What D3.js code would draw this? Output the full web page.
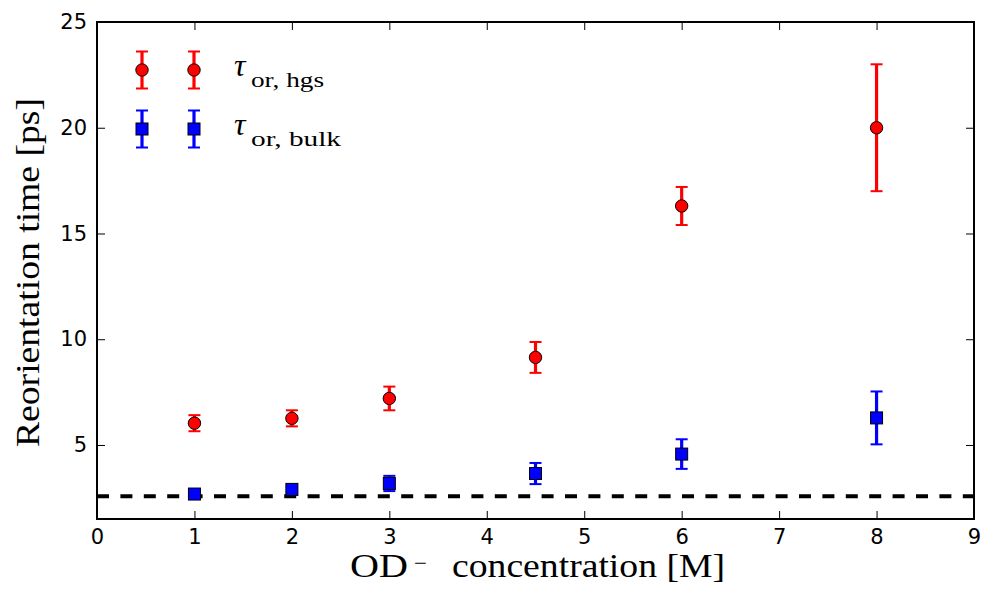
<!DOCTYPE html>
<html lang="en">
<head>
    <meta charset="UTF-8">
    <title>Reorientation time vs OD- concentration</title>
    <script src="https://d3js.org/d3.v7.min.js"></script>
    <style>
        body {
            margin: 0;
            background: #fff;
        }
        .tick text {
            font-family: "DejaVu Sans", sans-serif;
            font-size: 21px;
            fill: #000;
        }
        .tick line {
            stroke: #000;
            stroke-width: 1px;
        }
        .axis-label, .legend-label {
            font-family: "Liberation Serif", "DejaVu Serif", serif;
            fill: #000;
        }
    </style>
</head>
<body>
    <svg id="chart"></svg>

    <script>
        // concentrations (M)
        const conc = [1, 2, 3, 4.5, 6, 8];

        // tau_or,hgs (ps) and errors
        const hgs = [6.03, 6.26, 7.2, 9.14, 16.3, 20.0];
        const hgsErr = [0.38, 0.38, 0.56, 0.73, 0.9, 3.0];

        // tau_or,bulk (ps) and errors
        const bulk = [2.68, 2.9, 3.18, 3.65, 4.57, 6.28];
        const bulkErr = [0.12, 0.12, 0.36, 0.5, 0.7, 1.25];

        // reference level (dashed line)
        const bulkWater = 2.57;

        const xTicks = [0, 1, 2, 3, 4, 5, 6, 7, 8, 9];
        const yTicks = [5, 10, 15, 20, 25];

        const width = 982;
        const height = 596;
        const margin = {top: 22, right: 8, bottom: 77, left: 97};

        const svg = d3.select("#chart")
            .attr("width", width)
            .attr("height", height);

        const x = d3.scaleLinear()
            .domain([0, 9])
            .range([margin.left, width - margin.right]);

        const y = d3.scaleLinear()
            .domain([1.5, 25])
            .range([height - margin.bottom, margin.top]);

        const plotW = x(9) - x(0);
        const plotH = y(1.5) - y(25);

        // axes, ticks pointing inward
        svg.append("g")
            .attr("transform", `translate(0,${y(1.5)})`)
            .call(d3.axisBottom(x).tickValues(xTicks).tickSize(-8).tickPadding(10).tickFormat(d3.format("d")))
            .call(g => g.select(".domain").remove());

        svg.append("g")
            .attr("transform", `translate(0,${y(25)})`)
            .call(d3.axisTop(x).tickValues(xTicks).tickSize(-8).tickFormat(""))
            .call(g => g.select(".domain").remove());

        svg.append("g")
            .attr("transform", `translate(${x(0)},0)`)
            .call(d3.axisLeft(y).tickValues(yTicks).tickSize(-8).tickPadding(10).tickFormat(d3.format("d")))
            .call(g => g.select(".domain").remove());

        svg.append("g")
            .attr("transform", `translate(${x(9)},0)`)
            .call(d3.axisRight(y).tickValues(yTicks).tickSize(-8).tickFormat(""))
            .call(g => g.select(".domain").remove());

        // dashed reference line
        svg.append("line")
            .attr("x1", x(0))
            .attr("x2", x(9))
            .attr("y1", y(bulkWater))
            .attr("y2", y(bulkWater))
            .attr("stroke", "#000")
            .attr("stroke-width", 4)
            .attr("stroke-dasharray", "12,11.4");

        // error bars + markers
        function drawErrBars(g, xs, ys, errs, color) {
            const data = xs.map((d, i) => ({x: d, y: ys[i], e: errs[i]}));
            g.selectAll(".bar").data(data).enter().append("line")
                .attr("x1", d => x(d.x)).attr("x2", d => x(d.x))
                .attr("y1", d => y(d.y - d.e)).attr("y2", d => y(d.y + d.e))
                .attr("stroke", color).attr("stroke-width", 3.2);
            [-1, 1].forEach(s => {
                g.selectAll(".cap" + s).data(data).enter().append("line")
                    .attr("x1", d => x(d.x) - 6).attr("x2", d => x(d.x) + 6)
                    .attr("y1", d => y(d.y + s * d.e)).attr("y2", d => y(d.y + s * d.e))
                    .attr("stroke", color).attr("stroke-width", 2);
            });
            return data;
        }

        const gRed = svg.append("g");
        const redData = drawErrBars(gRed, conc, hgs, hgsErr, "#ff0000");
        const gBlue = svg.append("g");
        const blueData = drawErrBars(gBlue, conc, bulk, bulkErr, "#0000ff");

        gRed.selectAll("circle").data(redData).enter().append("circle")
            .attr("cx", d => x(d.x)).attr("cy", d => y(d.y)).attr("r", 6.2)
            .attr("fill", "#ff0000").attr("stroke", "#000").attr("stroke-width", 1);

        gBlue.selectAll("rect").data(blueData).enter().append("rect")
            .attr("x", d => x(d.x) - 6).attr("y", d => y(d.y) - 6)
            .attr("width", 12).attr("height", 12)
            .attr("fill", "#0000ff").attr("stroke", "#000").attr("stroke-width", 1);

        // frame
        svg.append("rect")
            .attr("x", x(0)).attr("y", y(25))
            .attr("width", plotW).attr("height", plotH)
            .attr("fill", "none").attr("stroke", "#000").attr("stroke-width", 2);

        // legend
        const legend = svg.append("g");
        const legItems = [
            {color: "#ff0000", shape: "circle", cy: 70, sub: "or, hgs", subW: 73},
            {color: "#0000ff", shape: "square", cy: 129, sub: "or, bulk", subW: 90}
        ];
        legItems.forEach(it => {
            [142, 194].forEach(cx => {
                legend.append("line")
                    .attr("x1", cx).attr("x2", cx).attr("y1", it.cy - 18.5).attr("y2", it.cy + 18.5)
                    .attr("stroke", it.color).attr("stroke-width", 3.2);
                [-18.5, 18.5].forEach(o => legend.append("line")
                    .attr("x1", cx - 6).attr("x2", cx + 6).attr("y1", it.cy + o).attr("y2", it.cy + o)
                    .attr("stroke", it.color).attr("stroke-width", 2));
                if (it.shape === "circle") {
                    legend.append("circle").attr("cx", cx).attr("cy", it.cy).attr("r", 6.2)
                        .attr("fill", it.color).attr("stroke", "#000");
                } else {
                    legend.append("rect").attr("x", cx - 6).attr("y", it.cy - 6)
                        .attr("width", 12).attr("height", 12)
                        .attr("fill", it.color).attr("stroke", "#000");
                }
            });
            legend.append("text")
                .attr("class", "legend-label")
                .attr("x", 234).attr("y", it.cy + 6)
                .attr("font-style", "italic").attr("font-size", 32)
                .text("τ");
            legend.append("text")
                .attr("class", "legend-label")
                .attr("x", 251).attr("y", it.cy + 17)
                .attr("font-size", 21)
                .attr("textLength", it.subW).attr("lengthAdjust", "spacingAndGlyphs")
                .text(it.sub);
        });

        // axis labels
        svg.append("text").attr("class", "axis-label")
            .attr("x", 350).attr("y", 577).attr("font-size", 33)
            .attr("textLength", 58).attr("lengthAdjust", "spacingAndGlyphs")
            .text("OD");
        svg.append("text").attr("class", "axis-label")
            .attr("x", 414).attr("y", 571).attr("font-size", 24)
            .attr("textLength", 13).attr("lengthAdjust", "spacingAndGlyphs")
            .text("−");
        svg.append("text").attr("class", "axis-label")
            .attr("x", 452).attr("y", 577).attr("font-size", 33)
            .attr("textLength", 273).attr("lengthAdjust", "spacingAndGlyphs")
            .text("concentration [M]");

        svg.append("text")
            .attr("class", "axis-label")
            .attr("transform", `translate(39,272.5) rotate(-90)`)
            .attr("text-anchor", "middle")
            .attr("font-size", 33)
            .attr("textLength", 349).attr("lengthAdjust", "spacingAndGlyphs")
            .text("Reorientation time [ps]");
    </script>
</body>
</html>
